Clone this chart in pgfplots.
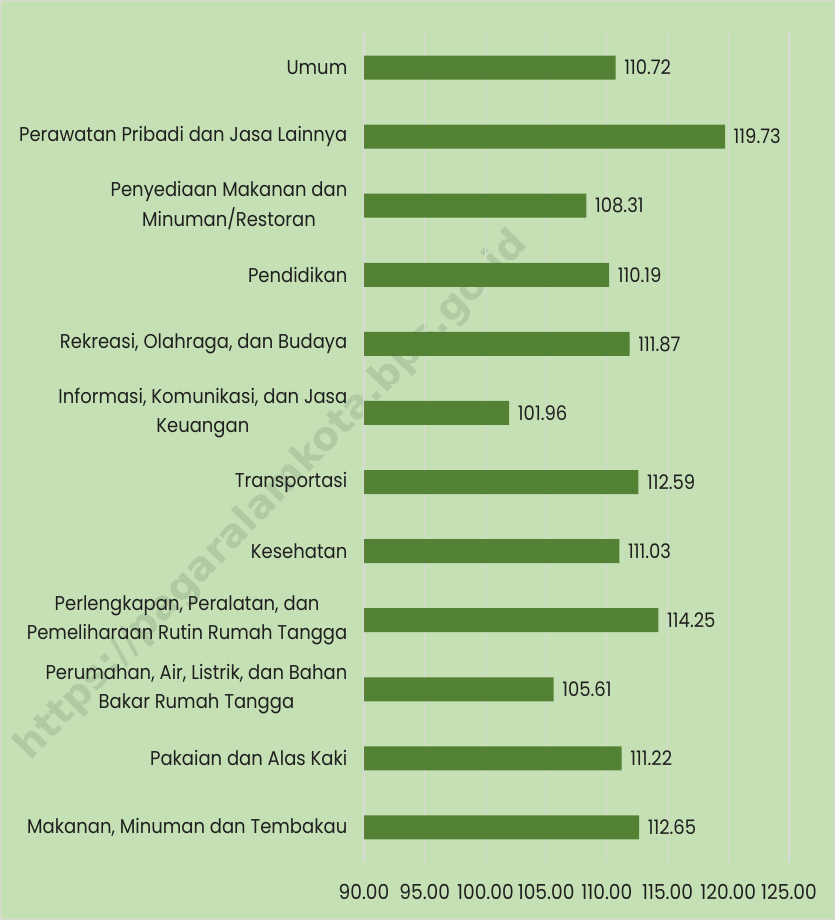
\documentclass[border=0pt]{standalone}
\usepackage{fontspec}
\setmainfont{Poppins}[FakeStretch=0.9]
\newfontfamily\wmfont{DejaVu Sans}
\usepackage{pgfplots}
\pgfplotsset{compat=1.18}

\definecolor{bgc}{HTML}{C5E0B4}
\definecolor{barc}{HTML}{548235}
\definecolor{gridc}{HTML}{D9D9D9}
\definecolor{wmc}{HTML}{B0CBA4}
\definecolor{txtc}{HTML}{1F1F1F}

\begin{document}
\begin{tikzpicture}
\useasboundingbox (0,0) rectangle (626.25pt,690pt);
\fill[bgc] (0,0) rectangle (626.25pt,690pt);
\draw[gridc, line width=0.8pt] (0.4pt,0.4pt) rectangle (625.85pt,689.6pt);
% watermark
\node[rotate=46, text=wmc, font=\wmfont\bfseries\fontsize{29.5}{34}\selectfont]
  at (204pt,318pt) {https://pagaralamkota.bps.go.id};
\begin{axis}[
  at={(273pt,43.5pt)}, anchor=south west,
  scale only axis, width=318.75pt, height=621.75pt,
  xbar, bar width=18pt, clip mode=individual,
  xmin=90, xmax=125, ymin=-0.5, ymax=11.5,
  xtick={90,95,...,125}, ytick={0,...,11},
  xmajorgrids, major grid style={color=gridc, line width=0.8pt},
  axis line style={draw=none}, major tick length=0pt,
  /pgf/number format/assume math mode=true,
  xticklabel={\pgfmathprintnumber[fixed,fixed zerofill,precision=2]{\tick}},
  xticklabel style={font=\fontsize{15.5}{18}\selectfont, text=txtc, yshift=-13pt},
  yticklabel style={font=\fontsize{15}{22}\selectfont, text=txtc, align=center, xshift=-9pt},
  yticklabels={
    {Makanan, Minuman dan Tembakau},
    {Pakaian dan Alas Kaki},
    {Perumahan, Air, Listrik, dan Bahan\\Bakar Rumah Tangga},
    {Perlengkapan, Peralatan, dan\\Pemeliharaan Rutin Rumah Tangga},
    {Kesehatan},
    {Transportasi},
    {Informasi, Komunikasi, dan Jasa\\Keuangan},
    {Rekreasi, Olahraga, dan Budaya},
    {Pendidikan},
    {Penyediaan Makanan dan\\Minuman/Restoran},
    {Perawatan Pribadi dan Jasa Lainnya},
    {Umum}},
  nodes near coords={\pgfmathprintnumber[fixed,fixed zerofill,precision=2]{\pgfplotspointmeta}},
  nodes near coords style={font=\fontsize{15}{18}\selectfont, text=txtc, anchor=west, xshift=3pt},
  point meta=x,
]
\addplot[fill=barc, draw=none] coordinates {
  (112.65,0) (111.22,1) (105.61,2) (114.25,3) (111.03,4) (112.59,5)
  (101.96,6) (111.87,7) (110.19,8) (108.31,9) (119.73,10) (110.72,11)
};
\end{axis}
\end{tikzpicture}
\end{document}
